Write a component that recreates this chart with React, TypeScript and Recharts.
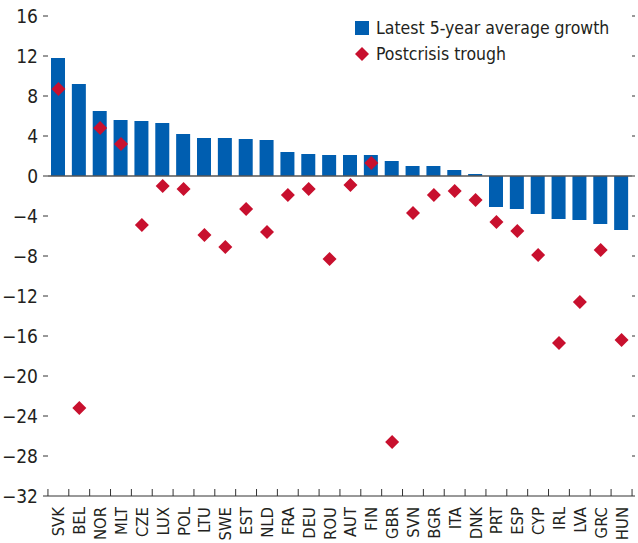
import React from "react";
import { ComposedChart, Bar, Scatter, XAxis, YAxis, ReferenceLine } from "recharts";

const categories = [
  "SVK", "BEL", "NOR", "MLT", "CZE", "LUX", "POL", "LTU", "SWE", "EST", "NLD", "FRA", "DEU", "ROU",
  "AUT", "FIN", "GBR", "SVN", "BGR", "ITA", "DNK", "PRT", "ESP", "CYP", "IRL", "LVA", "GRC", "HUN",
];
const avgGrowth = [
  11.8, 9.2, 6.5, 5.6, 5.5, 5.3, 4.2, 3.8, 3.8, 3.7, 3.6, 2.4, 2.2, 2.1,
  2.1, 2.1, 1.5, 1.0, 1.0, 0.6, 0.2, -3.1, -3.3, -3.8, -4.3, -4.4, -4.8, -5.4,
];
const trough = [
  8.7, -23.2, 4.8, 3.2, -4.9, -1.0, -1.3, -5.9, -7.1, -3.3, -5.6, -1.9, -1.3, -8.3,
  -0.9, 1.3, -26.6, -3.7, -1.9, -1.5, -2.4, -4.6, -5.5, -7.9, -16.7, -12.6, -7.4, -16.4,
];
const yTicks = [16, 12, 8, 4, 0, -4, -8, -12, -16, -20, -24, -28, -32];

const data = categories.map((name, i) => ({ name, growth: avgGrowth[i], trough: trough[i] }));

const FONT = "'Liberation Sans Narrow', 'DejaVu Sans Condensed', 'Arial Narrow', sans-serif";
const TEXT = "#231f20";
const BLUE = "#005eb0";
const RED = "#c8102e";
const AXIS = "#333333";
const HALF_BAND = 587 / categories.length / 2;

const fmt = (v: number) => (v < 0 ? "\u2212" + Math.abs(v) : String(v));

function CategoryTick(props: any) {
  const { x, y, payload, index } = props;
  const last = index === categories.length - 1;
  return (
    <g>
      <line x1={x - HALF_BAND} x2={x - HALF_BAND} y1={y} y2={y - 7} stroke={AXIS} />
      {last && <line x1={x + HALF_BAND} x2={x + HALF_BAND} y1={y} y2={y - 7} stroke={AXIS} />}
      <text
        x={0}
        y={0}
        dy="0.36em"
        transform={`translate(${x},${y + 11}) rotate(-90)`}
        textAnchor="end"
        fill={TEXT}
        fontSize={16.5}
        fontFamily={FONT}
      >
        {payload.value}
      </text>
    </g>
  );
}

function Diamond(props: any) {
  const { cx, cy } = props;
  const r = 7;
  return <polygon points={`${cx},${cy - r} ${cx + r},${cy} ${cx},${cy + r} ${cx - r},${cy}`} fill={RED} />;
}

function LegendBox() {
  const row = { display: "flex", alignItems: "center", height: 26, whiteSpace: "nowrap" } as const;
  return (
    <div style={{ position: "absolute", top: 15, left: 355, fontFamily: FONT, fontSize: 17.5, color: TEXT }}>
      <div style={row}>
        <span style={{ width: 14, height: 14, background: BLUE, marginRight: 7 }} />
        Latest 5-year average growth
      </div>
      <div style={row}>
        <svg width={14} height={14} style={{ marginRight: 7 }}>
          <polygon points="7,0 14,7 7,14 0,7" fill={RED} />
        </svg>
        Postcrisis trough
      </div>
    </div>
  );
}

export default function App() {
  return (
    <div style={{ position: "absolute", left: 0, top: 0, width: 638, height: 543, background: "#fff" }}>
      <ComposedChart width={638} height={543} data={data} margin={{ top: 16, right: 3, bottom: 0, left: 0 }}>
        <XAxis
          dataKey="name"
          interval={0}
          height={47}
          tick={<CategoryTick />}
          tickSize={0}
          tickMargin={0}
          tickLine={false}
          axisLine={{ stroke: AXIS }}
        />
        <YAxis
          yAxisId="l"
          width={48}
          domain={[-32, 16]}
          ticks={yTicks}
          interval={0}
          tickFormatter={fmt}
          tickSize={5}
          tickMargin={5}
          axisLine={false}
          tickLine={{ stroke: AXIS }}
          tick={{ fill: TEXT, fontSize: 19, fontFamily: FONT }}
        />
        <YAxis
          yAxisId="r"
          orientation="right"
          width={3}
          domain={[-32, 16]}
          ticks={yTicks}
          interval={0}
          tickFormatter={() => ""}
          tickSize={3}
          axisLine={false}
          tickLine={{ stroke: AXIS }}
        />
        <ReferenceLine yAxisId="l" y={0} stroke="#555555" strokeWidth={1.5} />
        <Bar yAxisId="l" dataKey="growth" fill={BLUE} barSize={14} isAnimationActive={false} />
        <Scatter yAxisId="r" dataKey="trough" shape={<Diamond />} isAnimationActive={false} />
      </ComposedChart>
      <LegendBox />
    </div>
  );
}
